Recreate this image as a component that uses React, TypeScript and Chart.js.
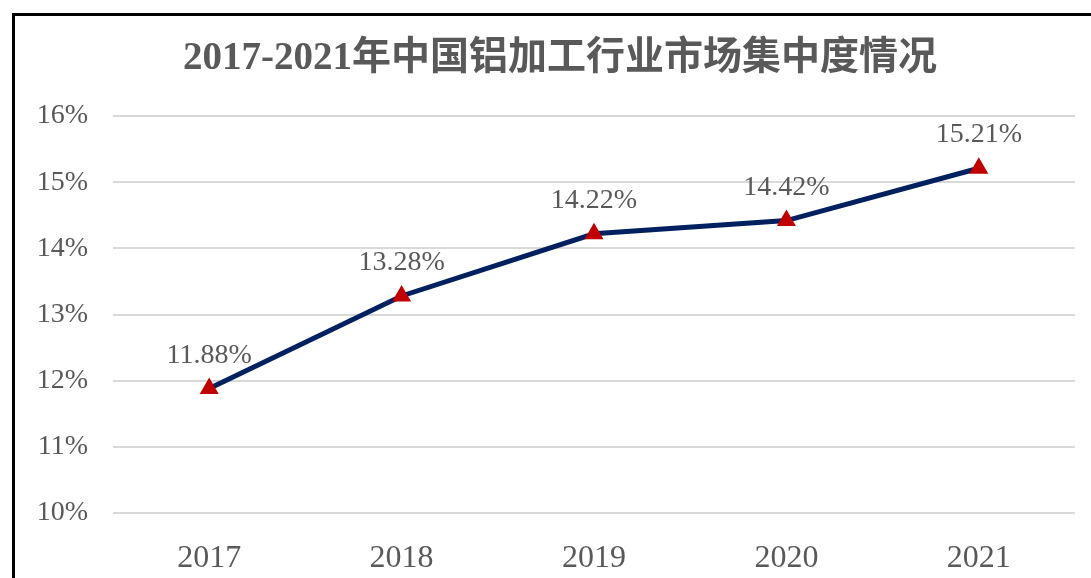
import React, { useEffect, useRef } from "react";
import { Chart, registerables } from "chart.js";

Chart.register(...registerables);

const categories = ["2017", "2018", "2019", "2020", "2021"];
const concentration = [11.88, 13.28, 14.22, 14.42, 15.21];
const yMin = 10;
const yMax = 16;
const yStep = 1;
const titleText = "2017-2021年中国铝加工行业市场集中度情况";

const SERIF = '"Liberation Serif", "Times New Roman", "Noto Sans CJK SC", serif';
const TEXT = "#595959";

const labelPlugin = {
  id: "pointLabels",
  afterDatasetsDraw(chart: any) {
    const ctx = chart.ctx;
    const meta = chart.getDatasetMeta(0);
    ctx.save();
    ctx.font = `28px ${SERIF}`;
    ctx.fillStyle = TEXT;
    ctx.textAlign = "center";
    ctx.textBaseline = "alphabetic";
    meta.data.forEach((pt: any, i: number) => {
      const v = chart.data.datasets[0].data[i] as number;
      ctx.fillText(v.toFixed(2) + "%", pt.x, pt.y - 26);
    });
    ctx.restore();
  },
};

const titlePlugin = {
  id: "customTitle",
  afterDraw(chart: any) {
    const ctx = chart.ctx;
    ctx.save();
    ctx.font = `bold 39px ${SERIF}`;
    ctx.fillStyle = TEXT;
    ctx.textAlign = "center";
    ctx.textBaseline = "middle";
    ctx.fillText(titleText, 560, 59);
    ctx.restore();
  },
};

export default function App() {
  const ref = useRef<HTMLCanvasElement | null>(null);
  useEffect(() => {
    if (!ref.current) return;
    const chart = new Chart(ref.current, {
      type: "line",
      data: {
        labels: categories,
        datasets: [
          {
            data: concentration,
            borderColor: "#002060",
            borderWidth: 5,
            tension: 0,
            pointStyle: "triangle",
            pointRadius: 11,
            pointBackgroundColor: "#C00000",
            pointBorderColor: "#C00000",
            pointBorderWidth: 0,
          },
        ],
      },
      options: {
        animation: false,
        responsive: false,
        maintainAspectRatio: false,
        layout: { padding: { left: 0, right: 16, top: 116, bottom: 0 } },
        plugins: {
          legend: { display: false },
          tooltip: { enabled: false },
          title: { display: false },
        },
        scales: {
          x: {
            offset: true,
            grid: { display: false },
            border: { display: false },
            ticks: {
              color: TEXT,
              font: { family: SERIF, size: 32 },
              padding: 18,
            },
            afterFit(scale: any) {
              scale.height = 65;
            },
          },
          y: {
            min: yMin,
            max: yMax,
            grid: { color: "#d9d9d9", lineWidth: 2, drawTicks: false },
            border: { display: false },
            ticks: {
              stepSize: yStep,
              color: TEXT,
              font: { family: SERIF, size: 28 },
              padding: 25,
              callback: (v: any) => v + "%",
            },
            afterFit(scale: any) {
              scale.width = 113;
            },
          },
        },
      },
      plugins: [labelPlugin, titlePlugin],
    } as any);
    return () => chart.destroy();
  }, []);

  return (
    <div
      style={{
        position: "fixed",
        left: 0,
        top: 0,
        width: 1091,
        height: 578,
        overflow: "hidden",
        background: "#fff",
      }}
    >
      <div
        style={{
          position: "absolute",
          left: 12,
          top: 13,
          width: 1200,
          height: 700,
          border: "3px solid #000",
        }}
      />
      <canvas
        ref={ref}
        width={1091}
        height={578}
        style={{ position: "absolute", left: 0, top: 0, width: 1091, height: 578 }}
      />
    </div>
  );
}
